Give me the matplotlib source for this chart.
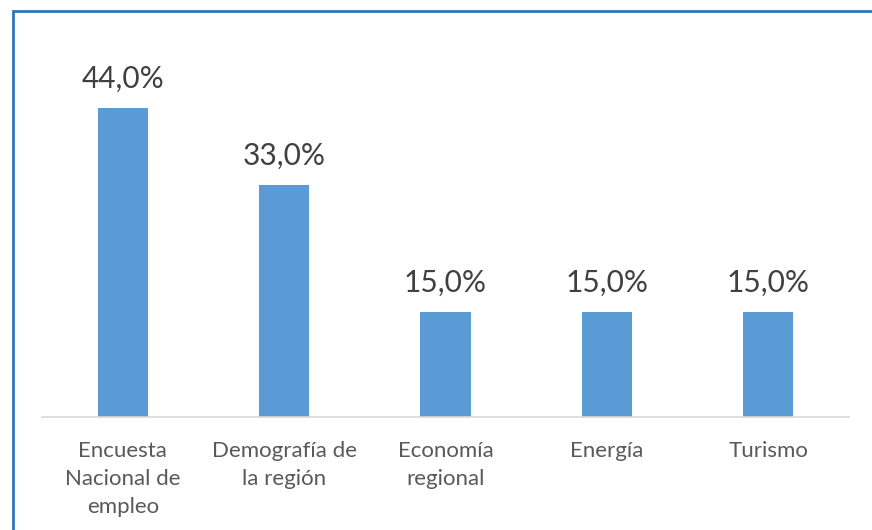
import matplotlib.pyplot as plt
from matplotlib.patches import Rectangle

categories = ['Encuesta\nNacional de\nempleo', 'Demografía de\nla región', 'Economía\nregional', 'Energía', 'Turismo']
values = [44.0, 33.0, 15.0, 15.0, 15.0]

W, H = 872, 530
fig = plt.figure(figsize=(W / 100, H / 100), dpi=100)
plt.rcParams['font.family'] = ['Lato', 'DejaVu Sans']

# marco azul del gráfico (sale por la derecha y abajo)
fig.patches.append(Rectangle((13 / W, -0.1), 1.1, 1 - 11 / H + 0.1, transform=fig.transFigure,
                             fill=False, edgecolor='#2E75B6', linewidth=2))

ax = fig.add_axes([42 / W, 1 - 417 / H, (849 - 42) / W, (417 - 66) / H])
x = range(len(categories))
bars = ax.bar(x, values, width=0.31, color='#5B9BD5')
ax.set_xlim(-0.5, len(categories) - 0.5)
ax.set_ylim(0, 50)

for b, v in zip(bars, values):
    ax.annotate(f'{v:.1f}%'.replace('.', ','), (b.get_x() + b.get_width() / 2, v),
                xytext=(0, 11), textcoords='offset points', ha='center', va='bottom',
                fontsize=21.5, color='#404040')

ax.set_xticks(list(x))
ax.set_xticklabels(categories, fontsize=16, color='#595959', linespacing=1.5)
ax.tick_params(axis='x', length=0, pad=17)
ax.set_yticks([])
for s in ['top', 'right', 'left']:
    ax.spines[s].set_visible(False)
ax.spines['bottom'].set_color('#D9D9D9')
ax.spines['bottom'].set_linewidth(1.2)

fig.savefig('out.png', dpi=100)
